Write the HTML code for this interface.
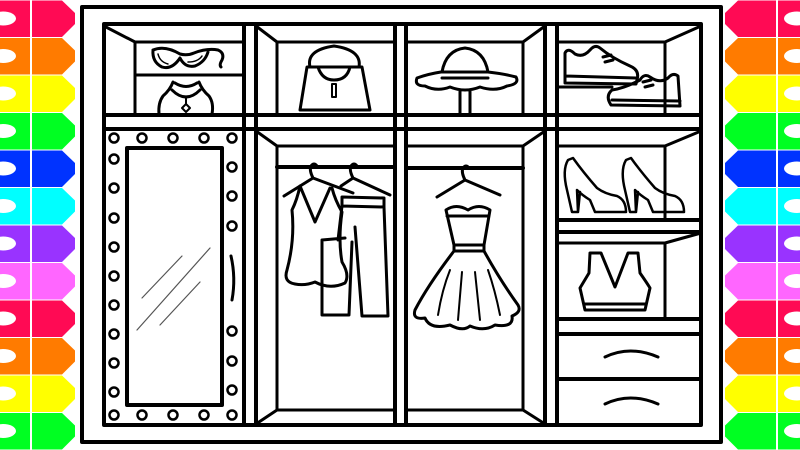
<!DOCTYPE html>
<html><head><meta charset="utf-8"><style>
html,body{margin:0;padding:0;background:#fff;width:800px;height:450px;overflow:hidden}
svg{display:block}
</style></head><body>
<svg id="s" width="800" height="450" viewBox="0 0 800 450" xmlns="http://www.w3.org/2000/svg">
<g id="cray"></g>
<g fill="none" stroke="#000" stroke-linejoin="round" stroke-linecap="round">
<rect x="82" y="7" width="639" height="435" stroke-width="4"/>
<rect x="104" y="24" width="597" height="401" stroke-width="4"/>
<g stroke-width="4">
<line x1="244" y1="24" x2="244" y2="425"/><line x1="256" y1="24" x2="256" y2="425"/>
<line x1="395" y1="24" x2="395" y2="425"/><line x1="406" y1="24" x2="406" y2="425"/>
<line x1="545" y1="24" x2="545" y2="425"/><line x1="557" y1="24" x2="557" y2="425"/>
<line x1="104" y1="115" x2="701" y2="115"/><line x1="104" y1="129" x2="701" y2="129"/>
</g>
<g stroke-width="3">
<path d="M104 26 L135 42 L244 42 M135 42 L135 115 M135 75 L244 75"/>
<path d="M256 26 L277 42 L395 42 M277 42 L277 115"/>
<path d="M545 26 L523 42 L406 42 M523 42 L523 115"/>
<path d="M701 26 L665 42 L557 42 M665 42 L665 115 M557 87 L612 87"/>
<path d="M256 131 L277 146 L395 146 M277 146 L277 410 L395 410 M277 410 L256 424"/>
<path d="M545 131 L523 146 L406 146 M523 146 L523 410 L406 410 M523 410 L545 424"/>
<path d="M701 131 L665 146 L557 146 M665 146 L665 220"/>
</g>
<g stroke-width="4">
<line x1="277" y1="167" x2="395" y2="167"/><line x1="406" y1="168" x2="523" y2="168"/>
<line x1="557" y1="220" x2="701" y2="220"/><line x1="557" y1="232" x2="701" y2="232"/>
<line x1="557" y1="319" x2="701" y2="319"/><line x1="557" y1="334" x2="701" y2="334"/>
<line x1="557" y1="379" x2="701" y2="379"/>
</g>
<path d="M701 233 L665 243 L557 243 M665 243 L665 319" stroke-width="3"/>
<path d="M605 357 Q630 345 658 357 M605 404 Q630 392 658 404" stroke-width="3"/>
<rect x="127" y="148" width="95" height="257" stroke-width="4"/>
<path d="M142 298 L182 256 M137 330 L210 248 M160 325 L200 282" stroke-width="1.2" stroke="#555"/>
<path d="M231 256 Q236 278 232 300" stroke-width="3"/>
<g stroke-width="2.5" id="dots"></g>
<g stroke-width="3">
<path d="M153 50 Q165 45 180 54 Q187 56 194 53 Q207 48 218 50 Q225 53 222 60 Q219 65 221 67 M153 50 Q152 62 162 67 Q172 70 180 58 Q185 68 195 66 Q205 62 208 52"/>
<path d="M158 54 Q160 62 168 64 M188 62 Q198 62 202 56" stroke-width="1.5"/>
<path d="M173 82 Q170 90 163 96 Q158 103 159 114 M199 82 Q202 90 209 96 Q214 103 212 114 M175 83 Q186 90 197 83 M172 90 Q186 104 200 90"/>
<path d="M186 97 L186 104 M186 104 L190 108 L186 112 L182 108 Z" stroke-width="2"/>
<path d="M300 110 L307 67 L362 67 L370 110 Z M310 67 Q306 50 334 46 Q362 50 359 67 M318 67 Q322 80 334 80 Q347 80 350 67"/>
<rect x="332" y="84" width="4" height="13" stroke-width="2"/>
<path d="M442 72 Q446 50 465 48 Q484 50 488 72 Z M442 72 L488 72 M442 78 L488 78 M441 72 Q428 74 417 78 Q414 86 425 86 Q437 92 450 87 Q465 93 480 87 Q495 92 507 86 Q520 84 516 77 Q505 74 488 72 M460 90 L460 114 M470 90 L470 114"/>
<path d="M565 83 L565 53 Q568 47 575 54 Q583 58 590 50 Q595 44 600 48 Q612 58 630 66 Q640 70 637 80 L636 84 L566 83 Z M566 76 L637 78 M603 57 L611 55 M605 62 L613 60"/>
<path d="M611 105 Q605 96 612 90 Q625 88 640 80 Q644 73 650 77 Q660 84 668 78 Q673 72 678 76 L680 106 Z M612 100 L680 101 M643 82 L651 80 M645 87 L653 85"/>
<path d="M568 160 Q562 170 567 190 L572 212 L578 212 L577 190 Q582 195 590 200 L595 212 L626 212 Q626 200 617 196 Q605 194 597 188 Q583 172 573 158 Z M578 212 L580 192" stroke-width="2.5"/>
<path d="M626 160 Q620 170 625 190 L630 212 L636 212 L635 190 Q640 195 648 200 L653 212 L684 212 Q684 200 675 196 Q663 194 655 188 Q641 172 631 158 Z M636 212 L638 192" stroke-width="2.5"/>
<path d="M590 253 L589 273 Q583 283 580 288 L585 310 L645 310 L650 288 Q647 283 640 273 L638 253 L628 253 L615 287 L601 253 Z M585 304 L645 304"/>
</g>
<g stroke-width="3">
<path d="M313 178 Q309 170 311 166 Q314 162 317 166 M313 178 L284 196 M313 178 L353 193"/>
<path d="M300 186 Q297 200 292 210 Q295 240 287 270 Q283 282 295 284 Q305 286 315 282 Q330 290 345 283 Q350 275 342 262 Q338 240 342 212 Q335 200 332 188 M300 186 L315 222 L330 188"/>
<path d="M353 178 Q349 170 351 166 Q354 162 357 166 M353 178 L341 186 M353 178 L390 195"/>
<path d="M342 197 L384 198 L384 207 L342 206 Z M342 206 L338 240 M345 238 L322 240 L322 315 L349 315 L352 242 M384 207 L388 316 L362 316 L355 227"/>
<path d="M465 180 Q461 172 463 168 Q466 164 469 168 M465 180 L437 197 M465 180 L500 195"/>
<path d="M446 210 Q456 203 468 210 Q479 203 490 210 L484 245 L454 245 Z M447 216 L489 216 M454 245 L454 251 L484 251 L484 245 M454 251 Q428 285 415 310 Q412 320 425 318 Q430 330 450 325 Q463 332 470 326 Q484 332 495 325 Q514 328 512 316 Q522 312 518 305 Q500 280 484 251"/>
<path d="M450 270 Q442 290 438 315 M462 272 L458 320 M475 272 L480 320 M488 270 Q495 290 500 315" stroke-width="2"/>
</g>
</g>
</svg>
<script>
var NS="http://www.w3.org/2000/svg";
var c=["#ff0a54","#ff7b00","#ffff00","#00ff22","#0033ff","#00ffff","#9933ff","#ff66ff"];
var g=document.getElementById("cray");
function el(t,a){var e=document.createElementNS(NS,t);for(var k in a)e.setAttribute(k,a[k]);g.appendChild(e);}
for(var i=0;i<12;i++){
 var y=i*37.5,col=c[i%8];
 el("polygon",{points:"0,"+(y+0.5)+" 62,"+(y+0.5)+" 75,"+(y+13)+" 75,"+(y+24)+" 62,"+(y+37)+" 0,"+(y+37),fill:col});
 el("ellipse",{cx:3,cy:y+18.5,rx:13,ry:7,fill:"#fff"});
 el("polygon",{points:"800,"+(y+0.5)+" 738,"+(y+0.5)+" 725,"+(y+13)+" 725,"+(y+24)+" 738,"+(y+37)+" 800,"+(y+37),fill:col});
 el("ellipse",{cx:797,cy:y+18.5,rx:13,ry:7,fill:"#fff"});
}
el("rect",{x:30,y:0,width:2,height:450,fill:"#fff"});
el("rect",{x:776,y:0,width:2,height:450,fill:"#fff"});
var d=document.getElementById("dots");
function dot(x,y){var e=document.createElementNS(NS,"circle");e.setAttribute("cx",x);e.setAttribute("cy",y);e.setAttribute("r",4.5);d.appendChild(e);}
[114,142,173,204,232].forEach(function(x){dot(x,138);dot(x,415);});
[159,188,218,247,276,305,334,363,392].forEach(function(y){dot(114,y);});
[167,196,226,331,361,390].forEach(function(y){dot(232,y);});
</script>
</body></html>
